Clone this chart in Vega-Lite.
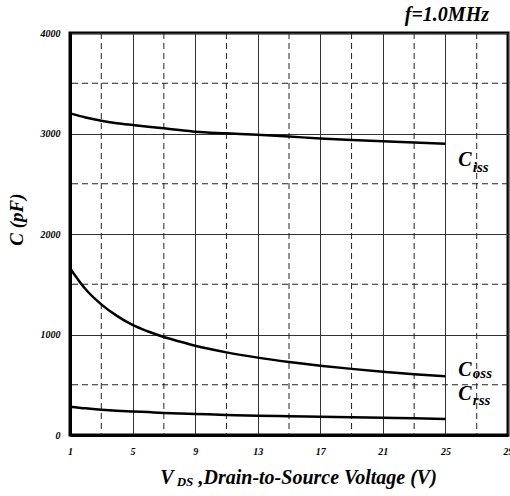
{
  "$schema": "https://vega.github.io/schema/vega-lite/v6.json",
  "width": 438,
  "height": 402,
  "autosize": {"type": "none"},
  "padding": {"left": 70, "top": 33, "right": 2, "bottom": 61},
  "background": "white",
  "title": {
    "text": "f=1.0MHz",
    "anchor": "end",
    "dx": -24,
    "offset": 3,
    "fontSize": 20,
    "font": "Liberation Serif",
    "fontStyle": "italic",
    "fontWeight": "bold",
    "color": "#000"
  },
  "config": {
    "view": {"stroke": "#000", "strokeWidth": 3},
    "axis": {
      "labelFont": "Liberation Serif",
      "labelFontStyle": "italic",
      "labelFontWeight": "bold",
      "labelColor": "#000",
      "titleFont": "Liberation Serif",
      "titleFontStyle": "italic",
      "titleFontWeight": "bold",
      "titleColor": "#000",
      "domainColor": "#000",
      "domainWidth": 3,
      "ticks": false,
      "gridColor": "#333",
      "gridWidth": 1,
      "gridOpacity": 1
    }
  },
  "datasets": {
    "curves": [
      {"series": "Ciss", "vds": 1, "c": 3200},
      {"series": "Ciss", "vds": 2, "c": 3160},
      {"series": "Ciss", "vds": 3, "c": 3127},
      {"series": "Ciss", "vds": 4, "c": 3103},
      {"series": "Ciss", "vds": 5, "c": 3085},
      {"series": "Ciss", "vds": 6, "c": 3068},
      {"series": "Ciss", "vds": 7, "c": 3052},
      {"series": "Ciss", "vds": 8, "c": 3034},
      {"series": "Ciss", "vds": 9, "c": 3018},
      {"series": "Ciss", "vds": 11, "c": 3002},
      {"series": "Ciss", "vds": 13, "c": 2988},
      {"series": "Ciss", "vds": 15, "c": 2970},
      {"series": "Ciss", "vds": 17, "c": 2950},
      {"series": "Ciss", "vds": 19, "c": 2935},
      {"series": "Ciss", "vds": 21, "c": 2922},
      {"series": "Ciss", "vds": 23, "c": 2910},
      {"series": "Ciss", "vds": 25, "c": 2898},
      {"series": "Coss", "vds": 1, "c": 1660},
      {"series": "Coss", "vds": 2, "c": 1450},
      {"series": "Coss", "vds": 3, "c": 1300},
      {"series": "Coss", "vds": 4, "c": 1185},
      {"series": "Coss", "vds": 5, "c": 1095},
      {"series": "Coss", "vds": 6, "c": 1030},
      {"series": "Coss", "vds": 7, "c": 975},
      {"series": "Coss", "vds": 8, "c": 930},
      {"series": "Coss", "vds": 9, "c": 888},
      {"series": "Coss", "vds": 11, "c": 822},
      {"series": "Coss", "vds": 13, "c": 770},
      {"series": "Coss", "vds": 15, "c": 727},
      {"series": "Coss", "vds": 17, "c": 690},
      {"series": "Coss", "vds": 19, "c": 658},
      {"series": "Coss", "vds": 21, "c": 630},
      {"series": "Coss", "vds": 23, "c": 605},
      {"series": "Coss", "vds": 25, "c": 585},
      {"series": "Crss", "vds": 1, "c": 282},
      {"series": "Crss", "vds": 2, "c": 265},
      {"series": "Crss", "vds": 3, "c": 252},
      {"series": "Crss", "vds": 4, "c": 242},
      {"series": "Crss", "vds": 5, "c": 235},
      {"series": "Crss", "vds": 6, "c": 228},
      {"series": "Crss", "vds": 7, "c": 220},
      {"series": "Crss", "vds": 8, "c": 214},
      {"series": "Crss", "vds": 9, "c": 209},
      {"series": "Crss", "vds": 11, "c": 200},
      {"series": "Crss", "vds": 13, "c": 192},
      {"series": "Crss", "vds": 15, "c": 186},
      {"series": "Crss", "vds": 17, "c": 181},
      {"series": "Crss", "vds": 19, "c": 176},
      {"series": "Crss", "vds": 21, "c": 171},
      {"series": "Crss", "vds": 23, "c": 166},
      {"series": "Crss", "vds": 25, "c": 160}
    ],
    "vgrid": [
      {"v": 3}, {"v": 7}, {"v": 11}, {"v": 15}, {"v": 19}, {"v": 23}, {"v": 27}
    ],
    "hgrid": [
      {"h": 500}, {"h": 1500}, {"h": 2500}, {"h": 3500}
    ],
    "bigC": [
      {"label": "C", "vds": 26.24, "c": 2736},
      {"label": "C", "vds": 26.24, "c": 647},
      {"label": "C", "vds": 26.24, "c": 403}
    ],
    "subs": [
      {"label": "iss", "vds": 26.75, "c": 2662},
      {"label": "oss", "vds": 26.75, "c": 612},
      {"label": "rss", "vds": 26.75, "c": 348}
    ],
    "xsub": [
      {"label": "DS", "vds": 8.35, "c": -468}
    ]
  },
  "layer": [
    {
      "data": {"name": "vgrid"},
      "mark": {"type": "rule", "strokeDash": [6, 4], "color": "#222", "strokeWidth": 1},
      "encoding": {
        "x": {"field": "v", "type": "quantitative", "scale": {"domain": [1, 29], "nice": false, "zero": false}}
      }
    },
    {
      "data": {"name": "hgrid"},
      "mark": {"type": "rule", "strokeDash": [6, 4], "color": "#222", "strokeWidth": 1},
      "encoding": {
        "y": {"field": "h", "type": "quantitative", "scale": {"domain": [0, 4000], "nice": false}}
      }
    },
    {
      "data": {"name": "curves"},
      "mark": {"type": "line", "interpolate": "monotone", "color": "#000", "strokeWidth": 2.5},
      "encoding": {
        "x": {
          "field": "vds", "type": "quantitative",
          "scale": {"domain": [1, 29], "nice": false, "zero": false},
          "axis": {
            "values": [1, 5, 9, 13, 17, 21, 25, 29],
            "format": "d",
            "grid": true,
            "labelFontSize": 10,
            "labelPadding": 11,
            "labelFlush": false,
            "title": "V\u00a0\u00a0\u00a0\u00a0\u00a0,Drain-to-Source Voltage (V)",
            "titleFontSize": 20,
            "titleX": 228,
            "titleY": 48,
            "titleBaseline": "alphabetic"
          }
        },
        "y": {
          "field": "c", "type": "quantitative",
          "scale": {"domain": [0, 4000], "nice": false},
          "axis": {
            "values": [0, 1000, 2000, 3000, 4000],
            "format": "d",
            "grid": true,
            "labelFontSize": 10,
            "labelPadding": 10,
            "title": "C (pF)",
            "titleFontSize": 19,
            "titleX": -54,
            "titleY": 186,
            "titleAngle": -90,
            "titleBaseline": "middle"
          }
        },
        "detail": {"field": "series", "type": "nominal"}
      }
    },
    {
      "data": {"name": "bigC"},
      "mark": {"type": "text", "font": "Liberation Serif", "fontStyle": "italic", "fontWeight": "bold", "fontSize": 20, "align": "center", "baseline": "middle", "color": "#000"},
      "encoding": {
        "x": {"field": "vds", "type": "quantitative"},
        "y": {"field": "c", "type": "quantitative"},
        "text": {"field": "label"}
      }
    },
    {
      "data": {"name": "subs"},
      "mark": {"type": "text", "font": "Liberation Serif", "fontStyle": "italic", "fontWeight": "bold", "fontSize": 15, "align": "left", "baseline": "middle", "color": "#000"},
      "encoding": {
        "x": {"field": "vds", "type": "quantitative"},
        "y": {"field": "c", "type": "quantitative"},
        "text": {"field": "label"}
      }
    },
    {
      "data": {"name": "xsub"},
      "mark": {"type": "text", "font": "Liberation Serif", "fontStyle": "italic", "fontWeight": "bold", "fontSize": 13, "align": "center", "baseline": "middle", "color": "#000"},
      "encoding": {
        "x": {"field": "vds", "type": "quantitative"},
        "y": {"field": "c", "type": "quantitative"},
        "text": {"field": "label"}
      }
    }
  ]
}
